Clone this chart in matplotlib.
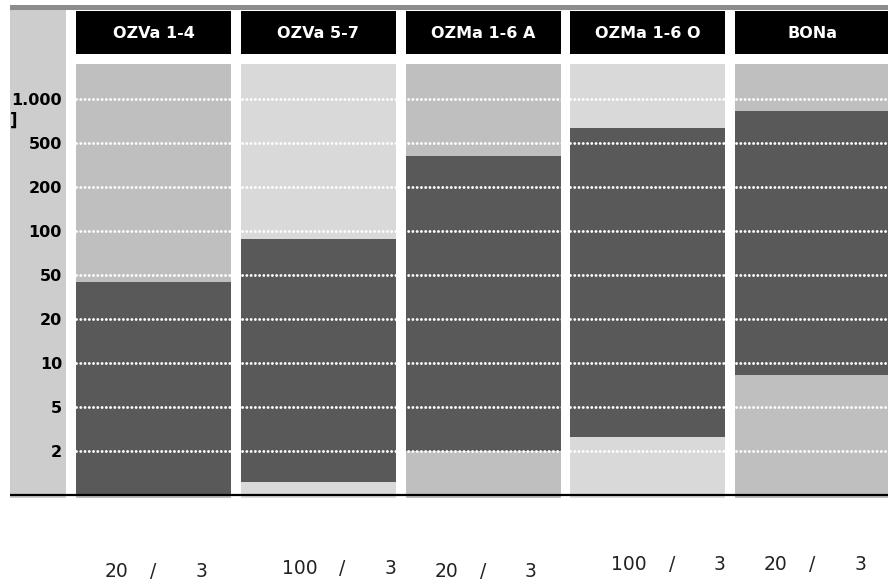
import numpy as np
import matplotlib
matplotlib.use('Agg')
import matplotlib.pyplot as plt
import matplotlib.transforms as mtransforms

# data
categories = ['OZVa 1-4', 'OZVa 5-7', 'OZMa 1-6 A', 'OZMa 1-6 O', 'BONa']
range_low = [1, 1.23, 2, 2.7, 8.3]
range_high = [43, 88, 380, 630, 820]
label_num = ['20', '100', '20', '100', '20']
label_den = ['3', '3', '3', '3', '3']
tick_vals = [2, 5, 10, 20, 50, 100, 200, 500, 1000]
tick_labels = ['2', '5', '10', '20', '50', '100', '200', '500', '1.000']

# 1-2-5 steps drawn at equal distance
levels = np.array([0.5, 1, 2, 5, 10, 20, 50, 100, 200, 500, 1000, 2000, 5000])
lev_idx = np.arange(len(levels)) - 1.0


def fwd(v):
    v = np.clip(np.asarray(v, dtype=float), 1e-9, None)
    return np.interp(np.log10(v), np.log10(levels), lev_idx)


def inv(i):
    return 10 ** np.interp(np.asarray(i, dtype=float), lev_idx, np.log10(levels))


W, H = 888, 581
fig = plt.figure(figsize=(W / 100, H / 100), dpi=100)

step_px = 164.75          # column pitch in pixels
x0_px = 153.5             # centre of first column
left_px, right_px = 10, 888
xmin = (left_px - x0_px) / step_px
xmax = (right_px - x0_px) / step_px
bw = 155 / step_px
x = np.arange(len(categories))

panel_bg = ['#bfbfbf', '#d9d9d9', '#bfbfbf', '#d9d9d9', '#bfbfbf']
dark = '#595959'
side_gray = '#cdcdcd'

# main plotting area
ax = fig.add_axes([left_px / W, (H - 498) / H, (right_px - left_px) / W, 434 / H])
ax.set_yscale('function', functions=(fwd, inv))
ax.set_xlim(xmin, xmax)
ax.set_ylim(inv(-0.059), inv(9.786))

side_r = (66 - x0_px) / step_px
ax.axvspan(xmin, side_r, color=side_gray, lw=0, zorder=0.5)
for i in x:
    ax.axvspan(i - bw / 2, i + bw / 2, color=panel_bg[i], lw=0, zorder=0.6)

ax.bar(x, np.array(range_high) - np.array(range_low), bottom=range_low,
       width=bw, color=dark, lw=0, zorder=2)

ax.hlines(tick_vals, -bw / 2, xmax, colors='white', lw=2.1,
          linestyles=(0, (0.01, 1.45)), capstyle='round', zorder=3)
ax.axhline(1, color='black', lw=1.6, zorder=4)

ax.set_yticks(tick_vals, tick_labels)
ax.tick_params(axis='y', length=0, pad=-37.4, labelsize=11.5)
for t in ax.get_yticklabels():
    t.set_fontweight('bold')
ax.set_xticks([])
for s in ax.spines.values():
    s.set_visible(False)
ax.set_axisbelow(False)

# header strip
hax = fig.add_axes([left_px / W, (H - 64) / H, (right_px - left_px) / W, 59 / H])
hax.set_xlim(xmin, xmax)
hax.set_ylim(59, 0)
hax.axis('off')
hax.axhspan(0, 4.5, color='#8c8c8c', lw=0)
hax.bar((xmin + side_r) / 2, 54, bottom=5, width=side_r - xmin, color=side_gray, lw=0)
hax.bar(x, 43, bottom=6, width=bw, color='black', lw=0)
for i, name in enumerate(categories):
    hax.text(i, 28, name, color='white', ha='center', va='center',
             fontsize=11.5, fontweight='bold')

fig.text(10 / W, 1 - 121 / H, ']', fontsize=12, fontweight='bold', va='center')

# labels under the columns
tr = mtransforms.blended_transform_factory(ax.transData, fig.transFigure)
base_px = [577, 574, 577, 570, 570]
for i in x:
    s = i + (24 / step_px if len(label_num[i]) == 3 else 0)
    yb = 1 - base_px[i] / H
    kw = dict(transform=tr, fontsize=13.5, va='baseline', color='#222222')
    ax.text(s - 25 / step_px, yb, label_num[i], ha='right', **kw)
    ax.text(s, yb, '/', ha='center', **kw)
    ax.text(s + 42 / step_px, yb, label_den[i], ha='left', **kw)

fig.savefig('out.png', dpi=100)
